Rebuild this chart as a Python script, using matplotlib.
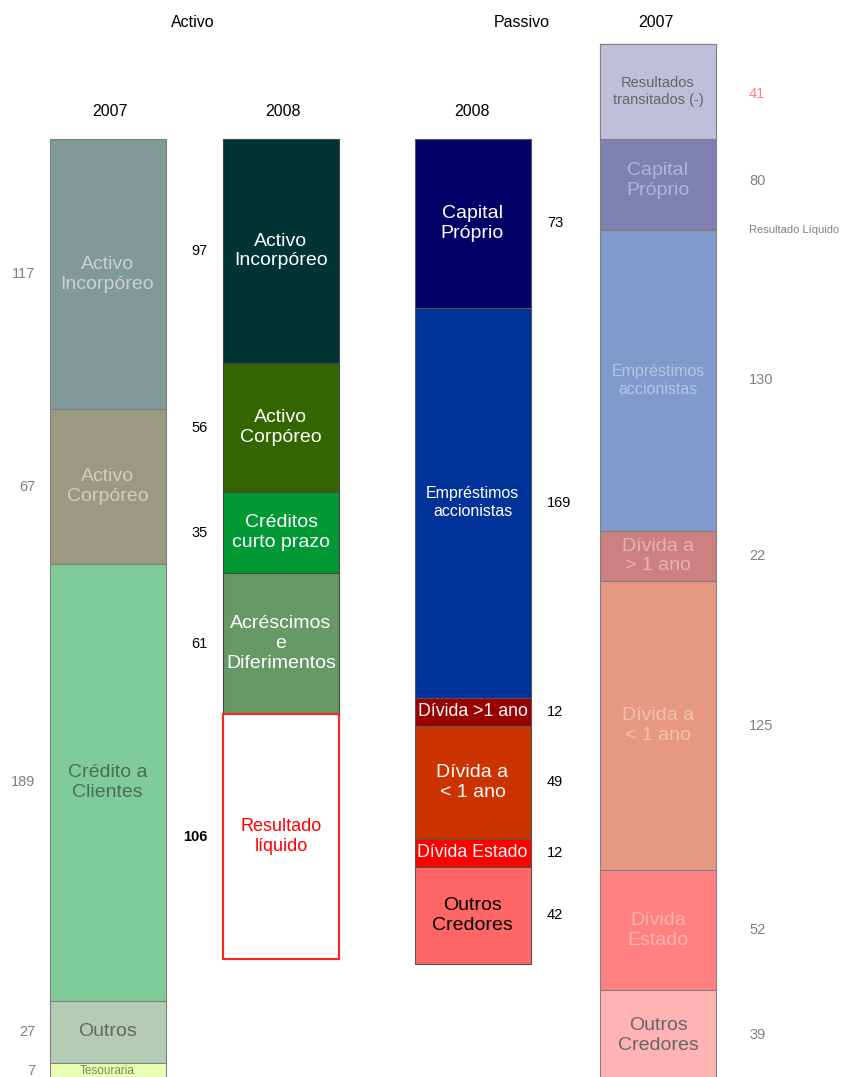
import matplotlib.pyplot as plt

plt.rcParams['font.family'] = ['Liberation Sans', 'DejaVu Sans']

# Activo 2007
act07_nomes = ['Activo\nIncorpóreo', 'Activo\nCorpóreo', 'Crédito a\nClientes', 'Outros', 'Tesouraria']
act07_valores = [117, 67, 189, 27, 7]

# Activo 2008
act08_nomes = ['Activo\nIncorpóreo', 'Activo\nCorpóreo', 'Créditos\ncurto prazo',
               'Acréscimos\ne\nDiferimentos', 'Resultado\nlíquido']
act08_valores = [97, 56, 35, 61, 106]

# Passivo 2008
pas08_nomes = ['Capital\nPróprio', 'Empréstimos\naccionistas', 'Dívida >1 ano',
               'Dívida a\n< 1 ano', 'Dívida Estado', 'Outros\nCredores']
pas08_valores = [73, 169, 12, 49, 12, 42]

# Passivo 2007 (capital próprio inclui os resultados transitados negativos)
res_transitados = 41
capital07 = 80
pas07_nomes = ['Resultado Líquido', 'Empréstimos\naccionistas', 'Dívida a\n> 1 ano',
               'Dívida a\n< 1 ano', 'Dívida\nEstado', 'Outros\nCredores']
pas07_valores = [0.5, 130, 22, 125, 52, 39]

fig = plt.figure(figsize=(8.42, 10.77), dpi=100)
ax = fig.add_axes([0, 0, 1, 1])
ax.set_xlim(0, 842)
ax.set_ylim(406.1, -60.2)
ax.axis('off')

W = 116
LS = 1.22


def coluna(xc, nomes, valores, cores, cores_txt, tam, inicio=0, edge='#808080'):
    base = inicio
    centros = []
    for nome, v, c, ct, fs in zip(nomes, valores, cores, cores_txt, tam):
        ax.bar(xc, v, bottom=base, width=W, color=c, edgecolor=edge, linewidth=0.8)
        if fs > 0:
            ax.text(xc, base + v / 2, nome, ha='center', va='center', color=ct,
                    fontsize=fs, linespacing=LS, clip_on=True)
        centros.append(base + v / 2)
        base += v
    return centros


# Activo 2007
x1 = 107.5
c = coluna(x1, act07_nomes, act07_valores,
           ['#7f9a97', '#999a80', '#80cc99', '#b3ccb3', '#e6ffb3'],
           ['#c9d3d2', '#cfcfbf', '#4d6b57', '#666666', '#7a8a5a'],
           [14, 14, 14, 14, 8.5])
for y, v in zip(c, act07_valores):
    ax.text(35, y, str(v), ha='right', va='center', color='#808080', fontsize=10.5)

# Activo 2008
x2 = 281
c = coluna(x2, act08_nomes, act08_valores,
           ['#003333', '#336600', '#009933', '#669966', 'white'],
           ['white', 'white', 'white', 'white', '#ff0000'],
           [14, 14, 14, 14, 13], edge='#444444')
# Resultado líquido com contorno vermelho
base_rl = sum(act08_valores[:-1])
ax.bar(x2, act08_valores[-1], bottom=base_rl, width=W, color='none',
       edgecolor='#ff2222', linewidth=1.5)
for i, (y, v) in enumerate(zip(c, act08_valores)):
    ax.text(208, y, str(v), ha='right', va='center', color='black', fontsize=10.5,
            fontweight='bold' if i == len(act08_valores) - 1 else 'normal')

# Passivo 2008
x3 = 472.5
c = coluna(x3, pas08_nomes, pas08_valores,
           ['#000066', '#003399', '#990000', '#cc3300', '#ff0000', '#ff6666'],
           ['white', 'white', 'white', 'white', 'white', 'black'],
           [14, 11.5, 12.8, 14, 12.8, 14], edge='#555555')
for y, v in zip(c, pas08_valores):
    ax.text(547, y, str(v), ha='left', va='center', color='black', fontsize=10.5)

# Passivo 2007
x4 = 658
ax.bar(x4, capital07, bottom=-res_transitados, width=W, color='#8080b3',
       edgecolor='#808080', linewidth=0.8)
ax.bar(x4, res_transitados, bottom=-res_transitados, width=W, color='#bfbfd9',
       edgecolor='#808080', linewidth=0.8)
ax.text(x4, -res_transitados / 2, 'Resultados\ntransitados (-)', ha='center', va='center',
        color='#666666', fontsize=10.5, linespacing=LS)
y_cap = (capital07 - res_transitados) / 2
ax.text(x4, y_cap - 1.5, 'Capital\nPróprio', ha='center', va='center', color='#b3b3d9',
        fontsize=14, linespacing=LS)
ax.text(749, -res_transitados / 2 + 1, str(res_transitados), ha='left', va='center',
        color='#ff8080', fontsize=10.5)
ax.text(749, y_cap - 1.5, str(capital07), ha='left', va='center', color='#808080', fontsize=10.5)

inicio07 = capital07 - res_transitados
c = coluna(x4, pas07_nomes, pas07_valores,
           ['#d9b84d', '#809acc', '#cc8080', '#e69980', '#ff8080', '#ffb3b3'],
           ['none', '#b3c6e6', '#e6b3b3', '#f2c0ad', '#ffb3b3', '#666666'],
           [0, 11.5, 14, 14, 14, 14], inicio=inicio07)
for i, (y, v) in enumerate(zip(c, pas07_valores)):
    txt = pas07_nomes[0] if i == 0 else str(v)
    fs = 8 if i == 0 else 10.5
    ax.text(749, y, txt, ha='left', va='center', color='#808080', fontsize=fs)

# Cabeçalhos
for x, y, t in [(193, -50.5, 'Activo'), (522, -50.5, 'Passivo'), (656, -50.5, '2007'),
                (110, -12, '2007'), (283, -12, '2008'), (472, -12, '2008')]:
    ax.text(x, y, t, ha='center', va='center', color='black', fontsize=11.5)

fig.savefig('out.png', dpi=100)
